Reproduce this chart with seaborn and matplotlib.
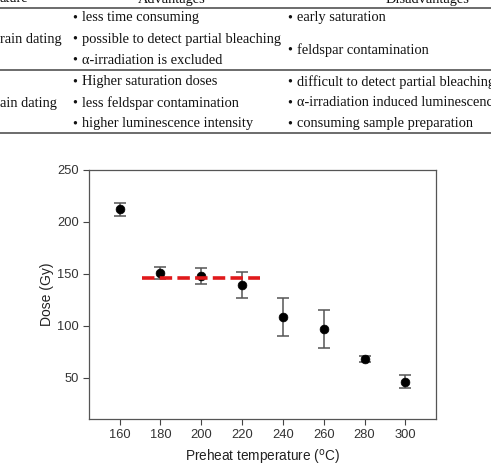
import numpy as np
import pandas as pd
import seaborn as sns
import matplotlib.pyplot as plt
from matplotlib.lines import Line2D

# preheat plateau data
temps = [160, 180, 200, 220, 240, 260, 280, 300]
dose = [212, 150.5, 148, 139, 108.5, 96.5, 67.5, 46]
dose_err = [6, 6, 8, 12.5, 18.5, 18.5, 3, 6]
plateau_x = [171, 229]
plateau_y = [146, 146]

# table snippet above the chart (cropped in the source)
header = ['ature', 'Advantages', 'Disadvantages']
row1_label = 'rain dating'
row1_adv = ['less time consuming', 'possible to detect partial bleaching', 'α-irradiation is excluded']
row1_dis = ['early saturation', 'feldspar contamination']
row2_label = 'ain dating'
row2_adv = ['Higher saturation doses', 'less feldspar contamination', 'higher luminescence intensity']
row2_dis = ['difficult to detect partial bleaching', 'α-irradiation induced luminescence', 'consuming sample preparation']

sns.set_theme(style='ticks')
plt.rcParams['font.family'] = ['Liberation Sans', 'DejaVu Sans']

W, H = 491, 467
fig = plt.figure(figsize=(W / 100, H / 100), dpi=100)
fig.set_facecolor('white')

# ---- table part ----
serif = ['Liberation Serif', 'DejaVu Serif']
tfs = 10.4
def fy(py):
    return 1 - py / H
def fx(px):
    return px / W

def put(px, py, s, ha='left'):
    fig.text(fx(px), fy(py), s, family=serif, fontsize=tfs, va='center', ha=ha, color='#111111')

def bullet(px, py, s):
    put(px, py, '•')
    put(px + 10, py, s)

put(0, -1, header[0])
put(172, -1, header[1], ha='center')
put(428, -1, header[2], ha='center')

for py in [7.5, 70, 133]:
    fig.add_artist(Line2D([0, 1], [fy(py), fy(py)], color='#444444', lw=1.1, transform=fig.transFigure))

put(0, 40, row1_label)
for i, s in enumerate(row1_adv):
    bullet(72, 18 + 21 * i, s)
for py, s in zip([18, 50], row1_dis):
    bullet(287, py, s)

put(0, 103, row2_label)
for i, s in enumerate(row2_adv):
    bullet(72, 82 + 21 * i, s)
for i, s in enumerate(row2_dis):
    bullet(287, 82 + 21 * i, s)

# ---- chart part ----
ax = fig.add_axes([89 / W, 1 - 419 / H, (436 - 89) / W, (419 - 170) / H])
df = pd.DataFrame({'temp': temps, 'dose': dose, 'err': dose_err})

ax.errorbar(df['temp'], df['dose'], yerr=df['err'], fmt='none', ecolor='#555555',
            elinewidth=1.1, capsize=4, capthick=1.1, zorder=2)
sns.scatterplot(data=df, x='temp', y='dose', color='black', s=40, edgecolor='black',
                linewidth=0.5, ax=ax, zorder=3)
sns.lineplot(x=plateau_x, y=plateau_y, color='#e0191b', linewidth=2.6, ax=ax, zorder=4,
             dashes=False, linestyle=(0, (3.45, 1.45)))

ax.set_xlim(145, 315)
ax.set_ylim(10, 250)
ax.set_xticks(temps)
ax.set_yticks([50, 100, 150, 200, 250])
ax.set_xlabel('Preheat temperature ($^{\\mathrm{o}}$C)', fontsize=9.8, labelpad=5, color='#222222')
ax.set_ylabel('Dose (Gy)', fontsize=10, labelpad=2, color='#222222')
ax.tick_params(axis='both', labelsize=9.3, length=4, width=0.8, color='#444444', labelcolor='#333333')
for sp in ax.spines.values():
    sp.set_color('#555555')
    sp.set_linewidth(0.9)

fig.savefig('out.png', dpi=100)
